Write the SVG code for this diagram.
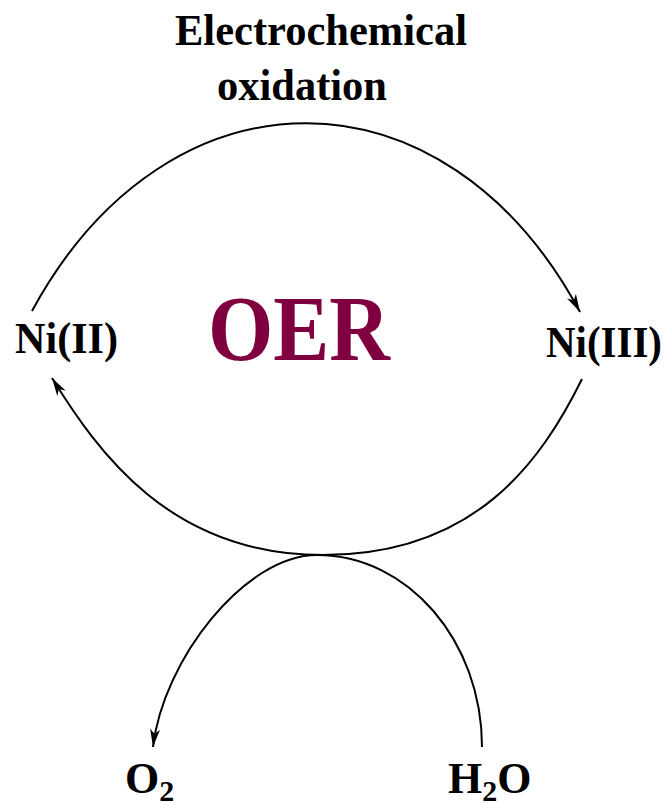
<svg xmlns="http://www.w3.org/2000/svg" width="667" height="803" viewBox="0 0 667 803">
<style>
.lbl{font-family:"Liberation Serif","Times New Roman",serif;font-weight:bold;fill:#000}
.arc{fill:none;stroke:#000;stroke-width:2}
</style>
<defs>
<marker id="ah" viewBox="-19 -6 20 12" markerWidth="20" markerHeight="12" refX="0" refY="0" orient="auto" markerUnits="userSpaceOnUse">
<path d="M0,0 L-18,-5 L-13,0 L-18,5 Z" fill="#000"/>
</marker>
</defs>
<rect width="667" height="803" fill="#fff"/>
<g id="connectors">
<path class="arc" d="M32,311 C168,60 445,61 580,312" marker-end="url(#ah)"/>
<path class="arc" d="M582,379 C541,462 475,555 323,555 C170,555 98,452 52,378" marker-end="url(#ah)"/>
<path class="arc" d="M482,747 C482,641 408,555 317,555 C245,555 163,660 153,747" marker-end="url(#ah)"/>
</g>
<g id="label-top">
<text class="lbl" x="321" y="45" font-size="44" text-anchor="middle" textLength="292" lengthAdjust="spacingAndGlyphs">Electrochemical</text>
<text class="lbl" x="302" y="100" font-size="44" text-anchor="middle" textLength="170" lengthAdjust="spacingAndGlyphs">oxidation</text>
</g>
<g id="node-ni2">
<text class="lbl" x="15" y="353" font-size="44" textLength="103" lengthAdjust="spacingAndGlyphs">Ni(II)</text>
</g>
<g id="node-ni3">
<text class="lbl" x="546" y="357" font-size="44" textLength="116" lengthAdjust="spacingAndGlyphs">Ni(III)</text>
</g>
<g id="node-oer">
<text x="208" y="360" font-size="94" font-family="'Liberation Serif','Times New Roman',serif" font-weight="bold" fill="#80003f" textLength="182" lengthAdjust="spacingAndGlyphs">OER</text>
</g>
<g id="node-o2">
<text class="lbl" x="125" y="793" font-size="44">O<tspan font-size="30" dy="8">2</tspan></text>
</g>
<g id="node-h2o">
<text class="lbl" x="448" y="793" font-size="44">H<tspan font-size="30" dy="8">2</tspan><tspan dy="-8">O</tspan></text>
</g>
</svg>
